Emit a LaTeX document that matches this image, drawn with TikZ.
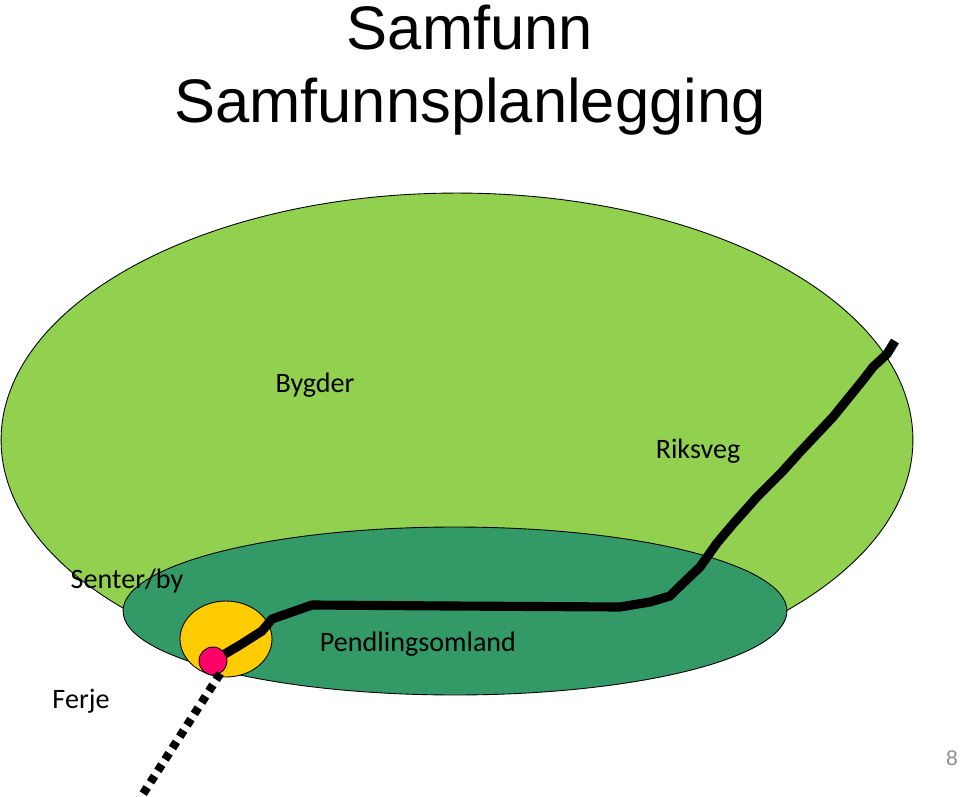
\documentclass[tikz,border=0pt]{standalone}
\usepackage{fontspec}
\setmainfont{Carlito}
\newfontfamily\titlefont{Liberation Sans}
\usetikzlibrary{shapes.geometric, positioning}
\definecolor{grass}{HTML}{92D050}
\definecolor{forest}{HTML}{339966}
\definecolor{sun}{HTML}{FFCC00}
\definecolor{ferjepink}{HTML}{FF0066}
\definecolor{muted}{HTML}{8C8C8C}
\tikzset{
  area/.style={
    ellipse, draw=black, line width=0.5pt, inner sep=0pt
  },
  bygdarea/.style={area, fill=grass, minimum width=18.24cm, minimum height=9.88cm},
  omlandarea/.style={area, fill=forest, minimum width=13.28cm, minimum height=3.36cm},
  senterarea/.style={area, fill=sun, minimum width=1.84cm, minimum height=1.52cm},
  ferjedot/.style={circle, draw=black, line width=0.5pt, fill=ferjepink, inner sep=0pt, minimum size=0.56cm},
  maptext/.style={font=\fontsize{16}{19}\selectfont, anchor=base, inner sep=0pt},
  titletext/.style={font=\titlefont\fontsize{35}{42}\selectfont, anchor=base, inner sep=0pt},
  road/.style={line width=5.2pt, line join=round, draw=black},
  ferry/.style={line width=4.8pt, draw=black, dash pattern=on 4.2pt off 3.5pt},
}

\begin{document}
\begin{tikzpicture}[x=0.02cm, y=-0.02cm]
  \useasboundingbox (0,0) rectangle (960,797);

  % title
  \node[titletext] (title) at (470,50) {Samfunn};
  \node[titletext] (subtitle) at (470,123) {Samfunnsplanlegging};

  % areas
  \node[bygdarea] (bygd) at (457,440) {};
  \node[omlandarea] (omland) at (455,611) {};
  \node[senterarea] (senter) at (226,639) {};

  % riksveg
  \coordinate (ferjept) at (213,661);
  \coordinate (roadend) at (895,341);
  \draw[road] (ferjept) -- (240,645) -- (262,631) -- (272,619) -- (312,605)
    -- (450,606) -- (620,607) -- (650,602) -- (670,596) -- (678,588)
    -- (700,567) -- (717,543) -- (733,524) -- (757,497) -- (782,472)
    -- (800,452) -- (833,417) -- (863,380) -- (873,367) -- (887,354) -- (roadend);

  \node[ferjedot] (ferje) at (ferjept) {};

  % ferry line
  \coordinate (sea) at (134,808);
  \draw[ferry] (ferje.-60) -- (sea);

  % labels
  \node[maptext] (bygder) at (315,392) {Bygder};
  \node[maptext] (riksveg) at (698,458) {Riksveg};
  \node[maptext] (senterby) at (127,588) {Senter/by};
  \node[maptext] (pendling) at (418,651) {Pendlingsomland};
  \node[maptext] (ferjetext) at (81,708) {Ferje};

  \node[font=\titlefont\fontsize{12}{14}\selectfont, text=muted, anchor=base, inner sep=0pt] (page) at (952,765) {8};
\end{tikzpicture}
\end{document}
